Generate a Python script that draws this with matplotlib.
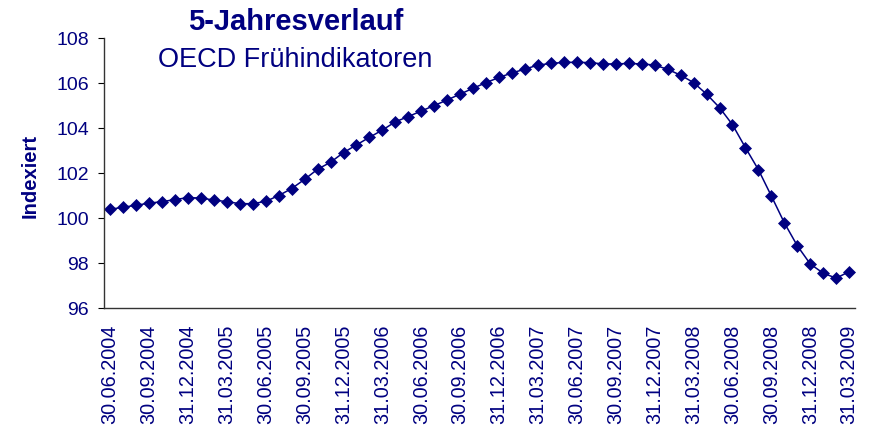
import matplotlib
matplotlib.use("Agg")
import matplotlib.pyplot as plt
import numpy as np

# monthly index values, 30.06.2004 .. 31.03.2009
values = [100.40, 100.49, 100.58, 100.67, 100.74, 100.83, 100.92, 100.90, 100.81, 100.74,
          100.65, 100.65, 100.75, 101.01, 101.32, 101.73, 102.18, 102.49, 102.92, 103.26,
          103.60, 103.92, 104.29, 104.52, 104.77, 105.01, 105.26, 105.52, 105.78, 106.03,
          106.26, 106.46, 106.63, 106.81, 106.88, 106.93, 106.93, 106.92, 106.86, 106.86,
          106.88, 106.86, 106.81, 106.62, 106.36, 106.03, 105.52, 104.92, 104.16, 103.14,
          102.16, 100.99, 99.80, 98.78, 97.97, 97.56, 97.34, 97.63]

tick_labels = ['30.06.2004', '30.09.2004', '31.12.2004', '31.03.2005', '30.06.2005',
               '30.09.2005', '31.12.2005', '31.03.2006', '30.06.2006', '30.09.2006',
               '31.12.2006', '31.03.2007', '30.06.2007', '30.09.2007', '31.12.2007',
               '31.03.2008', '30.06.2008', '30.09.2008', '31.12.2008', '31.03.2009']

navy = '#000080'
plt.rcParams['font.family'] = ['Liberation Sans', 'DejaVu Sans']

fig = plt.figure(figsize=(8.72, 4.30), dpi=100)
ax = fig.add_axes([0.1196, 0.283, 0.9805 - 0.1196, 0.911 - 0.283])

x = np.arange(len(values))
ax.plot(x, values, color=navy, linewidth=1.1, marker='D', markersize=6.4,
        markerfacecolor=navy, markeredgecolor=navy, markeredgewidth=0.5)

ax.set_xlim(-0.45, len(values) - 1 + 0.45)
ax.set_ylim(96, 108)
ax.set_yticks(np.arange(96, 109, 2))
ax.set_xticks(x[::3])
ax.set_xticklabels(tick_labels, rotation=90)

ax.tick_params(axis='y', direction='out', length=4, width=0.8, pad=7,
               labelsize=14, labelcolor=navy, color='black')
ax.tick_params(axis='x', length=0, pad=12, labelsize=14.3, labelcolor=navy)

for side in ['top', 'right']:
    ax.spines[side].set_visible(False)
for side in ['left', 'bottom']:
    ax.spines[side].set_color('#333333')
    ax.spines[side].set_linewidth(1.0)

fig.text(0.034, 0.59, 'Indexiert', rotation=90, ha='center', va='center',
         fontsize=14.5, fontweight='bold', color=navy)
fig.text(0.339, 1 - 30 / 430, '5-Jahresverlauf', ha='center', va='baseline',
         fontsize=21, fontweight='bold', color=navy)
fig.text(0.339, 1 - 66.7 / 430, 'OECD Frühindikatoren', ha='center', va='baseline',
         fontsize=19.5, color=navy)

fig.savefig('out.png', dpi=100)
